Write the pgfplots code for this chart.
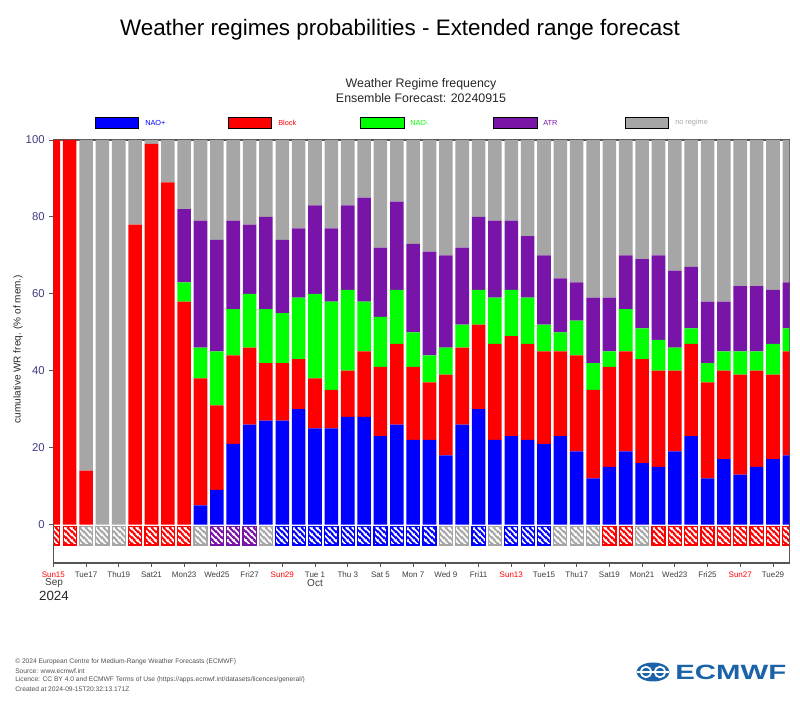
\documentclass[border=0pt]{standalone}
\usepackage{fontspec}
\setmainfont{Liberation Sans}
\usepackage{pgfplots}
\usepackage{pgfplotstable}
\pgfplotsset{compat=1.18}
\usetikzlibrary{patterns}

\pgfdeclarepatternformonly{hatch}{\pgfqpoint{0pt}{0pt}}{\pgfqpoint{4.5pt}{4.5pt}}{\pgfqpoint{4.5pt}{4.5pt}}{%
  \pgfsetlinewidth{1.3pt}%
  \pgfpathmoveto{\pgfqpoint{-1pt}{5.5pt}}\pgfpathlineto{\pgfqpoint{5.5pt}{-1pt}}%
  \pgfpathmoveto{\pgfqpoint{-1pt}{1pt}}\pgfpathlineto{\pgfqpoint{1pt}{-1pt}}%
  \pgfpathmoveto{\pgfqpoint{3.5pt}{5.5pt}}\pgfpathlineto{\pgfqpoint{5.5pt}{3.5pt}}%
  \pgfusepath{stroke}%
}

\definecolor{naoblue}{RGB}{0,0,255}
\definecolor{blockred}{RGB}{255,0,0}
\definecolor{naogreen}{RGB}{0,255,0}
\definecolor{atrpurple}{RGB}{120,20,168}
\definecolor{nogray}{RGB}{166,166,166}
\definecolor{axisgray}{RGB}{85,85,85}
\definecolor{xtickgray}{RGB}{60,60,60}
\definecolor{ytickblue}{RGB}{60,60,130}
\definecolor{ecblue}{RGB}{28,98,168}
\definecolor{foot}{RGB}{80,80,80}

\pgfplotstableread{
x B Bl G A N
0 0 100 0 0 0
1 0 100 0 0 0
2 0 14 0 0 86
3 0 0 0 0 100
4 0 0 0 0 100
5 0 78 0 0 22
6 0 99 0 0 1
7 0 89 0 0 11
8 0 58 5 19 18
9 5 33 8 33 21
10 9 22 14 29 26
11 21 23 12 23 21
12 26 20 14 18 22
13 27 15 14 24 20
14 27 15 13 19 26
15 30 13 16 18 23
16 25 13 22 23 17
17 25 10 23 19 23
18 28 12 21 22 17
19 28 17 13 27 15
20 23 18 13 18 28
21 26 21 14 23 16
22 22 19 9 23 27
23 22 15 7 27 29
24 18 21 7 24 30
25 26 20 6 20 28
26 30 22 9 19 20
27 22 25 12 20 21
28 23 26 12 18 21
29 22 25 12 16 25
30 21 24 7 18 30
31 23 22 5 14 36
32 19 25 9 10 37
33 12 23 7 17 41
34 15 26 4 14 41
35 19 26 11 14 30
36 16 27 8 18 31
37 15 25 8 22 30
38 19 21 6 20 34
39 23 24 4 16 33
40 12 25 5 16 42
41 17 23 5 13 42
42 13 26 6 17 38
43 15 25 5 17 38
44 17 22 8 14 39
45 18 27 6 12 37
}\wr

\pgfplotsset{
  hfill/.style={ybar, bar width=0.8, fill=#1, draw=none},
  hpat/.style={ybar, bar width=0.8, pattern=hatch, pattern color=white, draw=#1, line width=0.9pt},
}

\begin{document}
\begin{tikzpicture}
% hatched dominant-regime boxes
\begin{axis}[
  at={(40pt,117.75pt)}, anchor=south west, scale only axis,
  width=552pt, height=317.25pt,
  xmin=0, xmax=45, ymin=-9.4, ymax=100.6,
  hide axis, clip=true,
]
\addplot[hfill=blockred] coordinates {(0,-4.7) (1,-4.7) (5,-4.7) (6,-4.7) (7,-4.7) (8,-4.7) (34,-4.7) (35,-4.7) (37,-4.7) (38,-4.7) (39,-4.7) (40,-4.7) (41,-4.7) (42,-4.7) (43,-4.7) (44,-4.7) (45,-4.7)};
\addplot[hpat=blockred] coordinates {(0,-4.7) (1,-4.7) (5,-4.7) (6,-4.7) (7,-4.7) (8,-4.7) (34,-4.7) (35,-4.7) (37,-4.7) (38,-4.7) (39,-4.7) (40,-4.7) (41,-4.7) (42,-4.7) (43,-4.7) (44,-4.7) (45,-4.7)};
\addplot[hfill=nogray] coordinates {(2,-4.7) (3,-4.7) (4,-4.7) (9,-4.7) (13,-4.7) (24,-4.7) (25,-4.7) (27,-4.7) (31,-4.7) (32,-4.7) (33,-4.7) (36,-4.7)};
\addplot[hpat=nogray] coordinates {(2,-4.7) (3,-4.7) (4,-4.7) (9,-4.7) (13,-4.7) (24,-4.7) (25,-4.7) (27,-4.7) (31,-4.7) (32,-4.7) (33,-4.7) (36,-4.7)};
\addplot[hfill=atrpurple] coordinates {(10,-4.7) (11,-4.7) (12,-4.7)};
\addplot[hpat=atrpurple] coordinates {(10,-4.7) (11,-4.7) (12,-4.7)};
\addplot[hfill=naoblue] coordinates {(14,-4.7) (15,-4.7) (16,-4.7) (17,-4.7) (18,-4.7) (19,-4.7) (20,-4.7) (21,-4.7) (22,-4.7) (23,-4.7) (26,-4.7) (28,-4.7) (29,-4.7) (30,-4.7)};
\addplot[hpat=naoblue] coordinates {(14,-4.7) (15,-4.7) (16,-4.7) (17,-4.7) (18,-4.7) (19,-4.7) (20,-4.7) (21,-4.7) (22,-4.7) (23,-4.7) (26,-4.7) (28,-4.7) (29,-4.7) (30,-4.7)};
\end{axis}

% main stacked bars
\begin{axis}[
  at={(40pt,117.75pt)}, anchor=south west, scale only axis,
  width=552pt, height=317.25pt,
  xmin=0, xmax=45, ymin=-10, ymax=100,
  ybar stacked, bar width=0.83,
  xtick={0,2,...,44},
  xticklabels={\textcolor{red}{Sun15},Tue17,Thu19,Sat21,Mon23,Wed25,Fri27,\textcolor{red}{Sun29},Tue 1,Thu 3,Sat 5,Mon 7,Wed 9,Fri11,\textcolor{red}{Sun13},Tue15,Thu17,Sat19,Mon21,Wed23,Fri25,\textcolor{red}{Sun27},Tue29},
  ytick={0,20,...,100},
  tick align=outside, tick pos=left, major tick length=3pt,
  axis line style={draw=axisgray, line width=0.8pt},
  every tick/.style={draw=axisgray, line width=0.6pt},
  xticklabel style={font=\fontsize{6}{7}\selectfont, text=xtickgray},
  yticklabel style={font=\fontsize{8.5}{9}\selectfont, text=ytickblue},
  /pgf/number format/assume math mode=true,
]
\addplot[fill=naoblue, draw=none] table[x=x,y=B]{\wr};
\addplot[fill=blockred, draw=none] table[x=x,y=Bl]{\wr};
\addplot[fill=naogreen, draw=none] table[x=x,y=G]{\wr};
\addplot[fill=atrpurple, draw=none] table[x=x,y=A]{\wr};
\addplot[fill=nogray, draw=none] table[x=x,y=N]{\wr};
\end{axis}

\begin{scope}[x=0.75pt, y=-0.75pt, shift={(0pt,540pt)}]
\path[use as bounding box] (0,0) rectangle (800,720);
\node[font=\fontsize{16.8}{20}\selectfont] at (400,30) {Weather regimes probabilities - Extended range forecast};
\node[font=\fontsize{9.3}{11}\selectfont, text=black!85] at (421,84) {Weather Regime frequency};
\node[font=\fontsize{9.3}{11}\selectfont, text=black!85] at (421,98) {Ensemble Forecast: 20240915};
% legend
\draw[fill=naoblue, draw=black, line width=0.5pt] (95,117) rectangle (138,128);
\draw[fill=blockred, draw=black, line width=0.5pt] (228,117) rectangle (271,128);
\draw[fill=naogreen, draw=black, line width=0.5pt] (360,117) rectangle (404,128);
\draw[fill=atrpurple, draw=black, line width=0.5pt] (493,117) rectangle (537,128);
\draw[fill=nogray, draw=black, line width=0.5pt] (625,117) rectangle (668,128);
\node[anchor=west, inner sep=0pt, font=\fontsize{5.5}{6}\selectfont, text=naoblue] at (145,122.5) {NAO+};
\node[anchor=west, inner sep=0pt, font=\fontsize{5.5}{6}\selectfont, text=blockred] at (278,122.5) {Block};
\node[anchor=west, inner sep=0pt, font=\fontsize{5.5}{6}\selectfont, text=naogreen] at (410,122.5) {NAO-};
\node[anchor=west, inner sep=0pt, font=\fontsize{5.5}{6}\selectfont, text=atrpurple] at (543,122.5) {ATR};
\node[anchor=west, inner sep=0pt, font=\fontsize{5.5}{6}\selectfont, text=nogray] at (675,122.5) {no regime};
% y label
\node[rotate=90, font=\fontsize{7.5}{9}\selectfont, text=black!85] at (18,349) {cumulative WR freq. (\% of mem.)};
% date labels
\node[font=\fontsize{7.5}{9}\selectfont, text=xtickgray] at (54,583) {Sep};
\node[font=\fontsize{10}{12}\selectfont, text=black!85] at (54,596) {2024};
\node[font=\fontsize{7.5}{9}\selectfont, text=xtickgray] at (315,583) {Oct};
% footer
\node[anchor=west, inner sep=0pt, font=\fontsize{5}{6}\selectfont, text=foot] at (15,662) {\textcopyright{} 2024 European Centre for Medium-Range Weather Forecasts (ECMWF)};
\node[anchor=west, inner sep=0pt, font=\fontsize{5}{6}\selectfont, text=foot] at (15,671) {Source: www.ecmwf.int};
\node[anchor=west, inner sep=0pt, font=\fontsize{5}{6}\selectfont, text=foot] at (15,680) {Licence: CC BY 4.0 and ECMWF Terms of Use (https://apps.ecmwf.int/datasets/licences/general/)};
\node[anchor=west, inner sep=0pt, font=\fontsize{5}{6}\selectfont, text=foot] at (15,689) {Created at 2024-09-15T20:32:13.171Z};
% logo
\fill[ecblue] (653,672) ellipse [x radius=16.5, y radius=9.5];
\draw[white, line width=1.3pt] (646,672) circle [radius=5.3];
\draw[white, line width=1.3pt] (660,672) circle [radius=5.3];
\draw[white, line width=0.8pt] (637,672) -- (669,672);
\node[anchor=west, inner sep=0pt, font=\bfseries\fontsize{15.5}{16}\selectfont, text=ecblue, xscale=1.42] at (675,672) {ECMWF};
\end{scope}
\end{tikzpicture}
\end{document}
